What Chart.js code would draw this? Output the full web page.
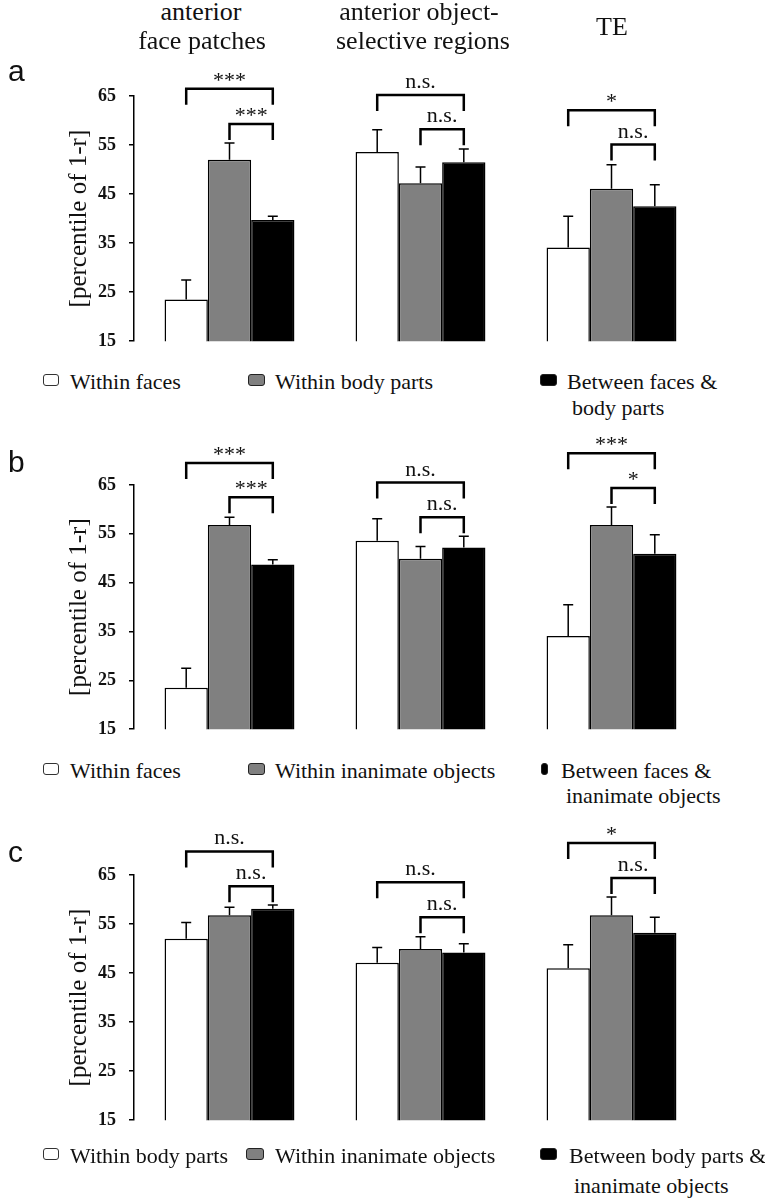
<!DOCTYPE html>
<html><head><meta charset="utf-8">
<script src="https://cdn.jsdelivr.net/npm/chart.js@4/dist/chart.umd.min.js"></script>
<style>
html,body{margin:0;padding:0;background:#fff;}
body{width:765px;height:1199px;position:relative;overflow:hidden;font-family:"Liberation Serif","Times New Roman",serif;color:#111;}
.t{position:absolute;white-space:nowrap;}
.box{position:absolute;box-sizing:border-box;border-radius:3px;}
canvas{position:absolute;left:0;}
</style></head><body>
<canvas id="ca" width="765" height="310" style="top:55px;width:765px;height:310px"></canvas>
<canvas id="cb" width="765" height="328" style="top:425px;width:765px;height:328px"></canvas>
<canvas id="cc" width="765" height="334" style="top:810px;width:765px;height:334px"></canvas>
<script>
// ---------- data ----------
const regions = ["anterior face patches", "anterior object-selective regions", "TE"];
const regionHeaders = ["anterior\nface patches", "anterior object-\nselective regions", "TE"];
const yTicks = [15, 25, 35, 45, 55, 65];
const yTitle = "[percentile of 1-r]";
const panelLetters = ["a", "b", "c"];

// panel a
const aLabels = ["Within faces", "Within body parts", "Between faces &\nbody parts"];
const aWhite = [23.5, 53.6, 34.1];
const aWhiteErr = [4.0, 4.5, 6.4];
const aGrey = [52.0, 47.2, 46.1];
const aGreyErr = [3.4, 3.3, 4.9];
const aBlack = [39.7, 51.5, 42.5];
const aBlackErr = [0.8, 2.7, 4.4];
const aSig = [["***", "***"], ["n.s.", "n.s."], ["*", "n.s."]];

// panel b
const bLabels = ["Within faces", "Within inanimate objects", "Between faces &\ninanimate objects"];
const bWhite = [23.5, 53.6, 34.1];
const bWhiteErr = [4.0, 4.5, 6.4];
const bGrey = [56.8, 49.9, 56.8];
const bGreyErr = [1.6, 2.5, 3.7];
const bBlack = [48.7, 52.2, 50.9];
const bBlackErr = [1.0, 2.3, 3.9];
const bSig = [["***", "***"], ["n.s.", "n.s."], ["***", "*"]];

// panel c
const cLabels = ["Within body parts", "Within inanimate objects", "Between body parts &\ninanimate objects"];
const cWhite = [52.0, 47.1, 46.0];
const cWhiteErr = [3.3, 3.1, 4.8];
const cGrey = [56.8, 49.9, 56.8];
const cGreyErr = [1.6, 2.5, 3.7];
const cBlack = [58.1, 49.2, 53.2];
const cBlackErr = [0.8, 1.8, 3.2];
const cSig = [["n.s.", "n.s."], ["n.s.", "n.s."], ["*", "n.s."]];

// ---------- layout (annotation placement, not data) ----------
const aBracketLevel = [[66.5, 59.3], [65.2, 58.2], [62.1, 55.1]];
const bBracketLevel = [[69.5, 62.5], [65.5, 58.4], [71.5, 64.4]];
const cBracketLevel = [[69.8, 62.7], [63.5, 56.4], [71.5, 64.4]];

const SERIF = '"Liberation Serif","Times New Roman",serif';
const fills = ["#ffffff", "#808080", "#000000"];

function addText(txt, x, baseline, size, align, extra) {
  const d = document.createElement('div');
  d.className = 't';
  const L = Math.round(size * 1.2);
  d.style.fontSize = size + 'px';
  d.style.lineHeight = L + 'px';
  const top = baseline - ((L - 1.107 * size) / 2 + 0.891 * size);
  d.style.top = top + 'px';
  if (align === 'center') {
    d.style.left = (x - 200) + 'px'; d.style.width = '400px'; d.style.textAlign = 'center';
  } else {
    d.style.left = x + 'px';
  }
  if (extra) Object.assign(d.style, extra);
  d.textContent = txt;
  document.body.appendChild(d);
}

// headers
const headerX = [[201, 202], [419, 423], [612]];
const headerBase = [[20, 49], [20, 49], [35]];
regionHeaders.forEach((h, i) => {
  h.split('\n').forEach((line, j) => addText(line, headerX[i][j], headerBase[i][j], 26, 'center'));
});

// panel letters
const letterBase = [81, 472, 862];
panelLetters.forEach((l, i) => addText(l, 8, letterBase[i], 30, 'left', {fontFamily: '"Liberation Sans",Arial,sans-serif'}));

function addLegend(labels, baseline, lineGap, textX, boxes) {
  labels.forEach((lab, i) => {
    const b = document.createElement('div');
    b.className = 'box';
    b.style.left = boxes[i][0] + 'px';
    b.style.width = boxes[i][1] + 'px';
    b.style.top = (baseline - 15) + 'px';
    b.style.height = '12px';
    b.style.background = fills[i];
    b.style.border = '1.5px solid ' + (i === 0 ? '#333' : '#222');
    document.body.appendChild(b);
    lab.split('\n').forEach((line, j) => addText(line, textX[i] + (j ? 5 : 0), baseline + j * lineGap, 22, 'left'));
  });
}
addLegend(aLabels, 389, 26, [70, 275, 567], [[43, 16], [248, 17], [540, 17]]);
addLegend(bLabels, 778, 25, [70, 275, 561], [[43, 16], [248, 17], [541, 7]]);
addLegend(cLabels, 1163, 30, [70, 275, 569], [[43, 16], [246, 18], [540, 17]]);

function annotPlugin(errs, sig, levels) {
  return {
    id: 'annot',
    afterDatasetsDraw(chart) {
      const ctx = chart.ctx, y = chart.scales.y;
      ctx.save();
      ctx.strokeStyle = '#000';
      ctx.lineWidth = 1.5;
      chart.data.datasets.forEach((ds, di) => {
        const meta = chart.getDatasetMeta(di);
        meta.data.forEach((bar, i) => {
          const v = ds.data[i], e = errs[di][i];
          const y0 = y.getPixelForValue(v), y1 = y.getPixelForValue(v + e);
          ctx.beginPath();
          ctx.moveTo(bar.x, y0); ctx.lineTo(bar.x, y1);
          ctx.moveTo(bar.x - 5, y1); ctx.lineTo(bar.x + 5, y1);
          ctx.stroke();
        });
      });
      // brackets
      const m0 = chart.getDatasetMeta(0), m1 = chart.getDatasetMeta(1), m2 = chart.getDatasetMeta(2);
      ctx.lineWidth = 2.5;
      ctx.lineJoin = 'miter';
      ctx.fillStyle = '#111';
      ctx.textAlign = 'center';
      ctx.textBaseline = 'alphabetic';
      ctx.font = '22px ' + SERIF;
      levels.forEach((lv, g) => {
        const pairs = [[m0.data[g].x, m2.data[g].x], [m1.data[g].x, m2.data[g].x]];
        pairs.forEach((p, k) => {
          const yl = y.getPixelForValue(lv[k]);
          ctx.beginPath();
          ctx.moveTo(p[0], yl + 16); ctx.lineTo(p[0], yl); ctx.lineTo(p[1], yl); ctx.lineTo(p[1], yl + 16);
          ctx.stroke();
          const s = sig[g][k];
          const off = s.indexOf('*') >= 0 ? 2 : 7;
          ctx.fillText(s, (p[0] + p[1]) / 2, yl - off);
        });
      });
      ctx.restore();
    }
  };
}

function makePanel(id, labels, vals, errs, sig, levels, padTop) {
  new Chart(document.getElementById(id), {
    type: 'bar',
    data: {
      labels: regions,
      datasets: vals.map((v, i) => ({
        label: labels[i].replace('\n', ' '),
        data: v,
        backgroundColor: fills[i],
        borderColor: '#000',
        borderWidth: 1.5,
        borderSkipped: false
      }))
    },
    options: {
      responsive: false,
      animation: false,
      devicePixelRatio: 1,
      layout: {padding: {top: padTop, bottom: 10, left: 0, right: 58}},
      plugins: {legend: {display: false}, tooltip: {enabled: false}},
      datasets: {bar: {categoryPercentage: 0.68, barPercentage: 1}},
      scales: {
        x: {display: false},
        y: {
          min: 15, max: 65,
          afterBuildTicks(s) { s.ticks = yTicks.map(v => ({value: v})); },
          afterFit(s) { s.width = 134; },
          ticks: {font: {family: SERIF, size: 18, weight: 'bold'}, color: '#111', padding: 13},
          grid: {display: true, drawOnChartArea: false, drawTicks: true, tickLength: 5, color: '#000', lineWidth: 1.5},
          border: {display: true, color: '#000', width: 1.5},
          title: {display: true, text: yTitle, font: {family: SERIF, size: 25}, color: '#111', padding: {top: 64, bottom: 0}}
        }
      }
    },
    plugins: [annotPlugin(errs, sig, levels)]
  });
}

makePanel('ca', aLabels, [aWhite, aGrey, aBlack], [aWhiteErr, aGreyErr, aBlackErr], aSig, aBracketLevel, 41);
makePanel('cb', bLabels, [bWhite, bGrey, bBlack], [bWhiteErr, bGreyErr, bBlackErr], bSig, bBracketLevel, 60);
makePanel('cc', cLabels, [cWhite, cGrey, cBlack], [cWhiteErr, cGreyErr, cBlackErr], cSig, cBracketLevel, 65);
</script>
</body></html>
